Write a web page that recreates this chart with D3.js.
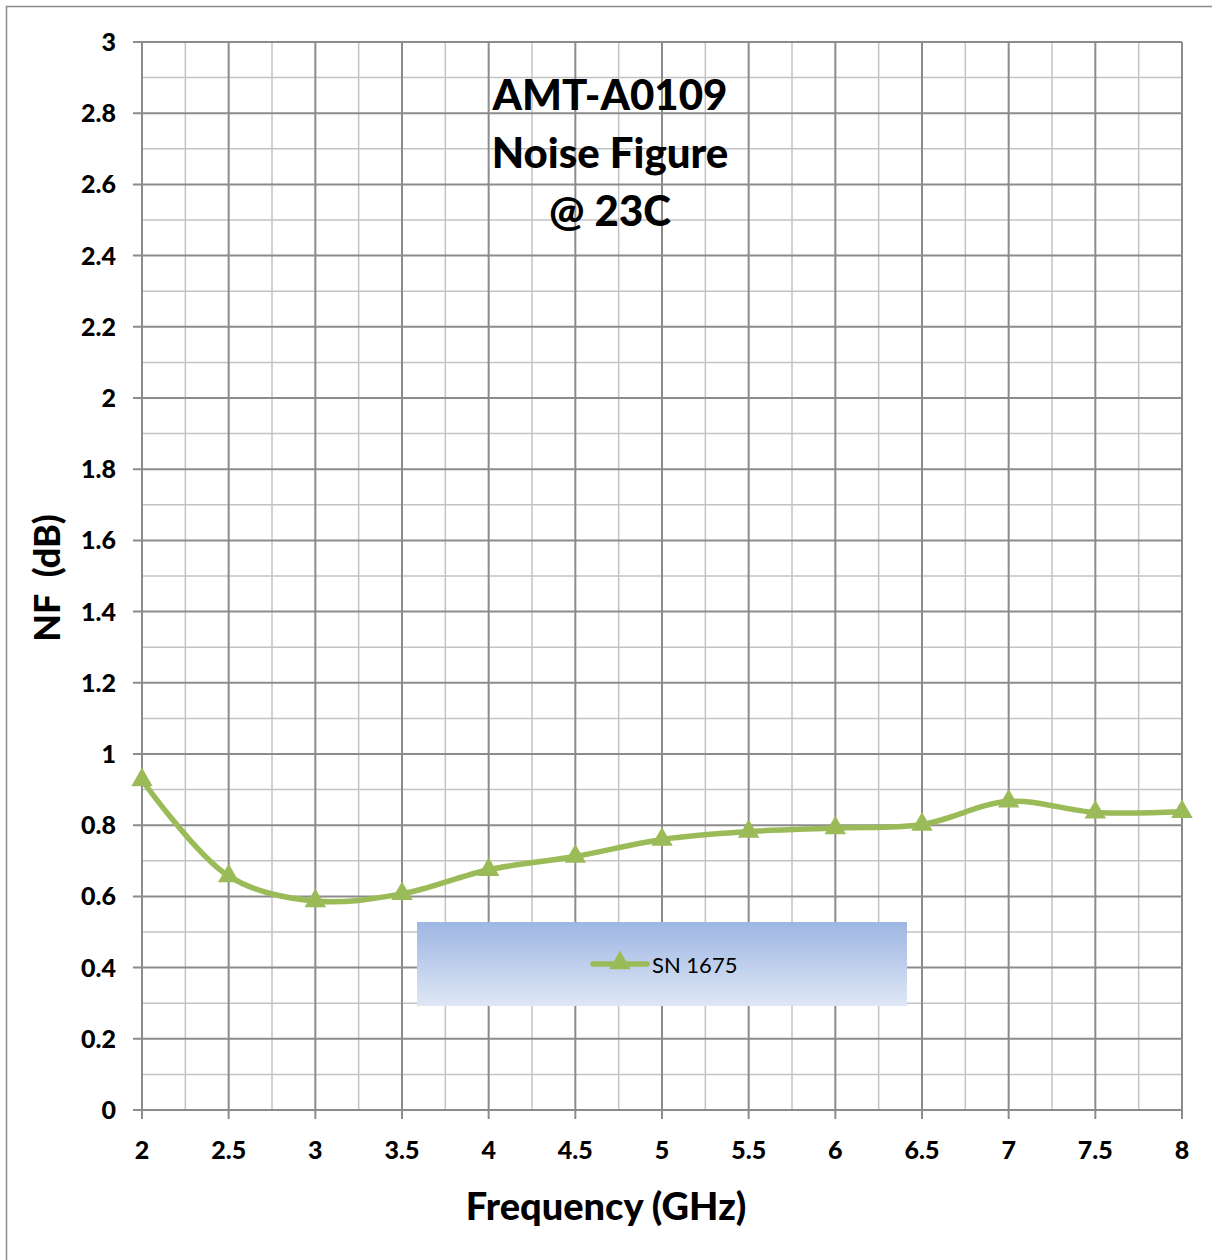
<!DOCTYPE html>
<html><head><meta charset="utf-8">
<script src="https://cdn.jsdelivr.net/npm/d3@7"></script>
<style>body{margin:0;background:#fff}svg{display:block}text{font-family:Lato,"Open Sans",sans-serif}</style>
</head><body><svg id="c" width="1212" height="1260"></svg>
<script>
const freqs = [2, 2.5, 3, 3.5, 4, 4.5, 5, 5.5, 6, 6.5, 7, 7.5, 8];
const nf = [0.927, 0.657, 0.587, 0.607, 0.675, 0.712, 0.760, 0.782, 0.792, 0.802, 0.867, 0.836, 0.838];
const seriesName = "SN 1675";
const xTicks = [2, 2.5, 3, 3.5, 4, 4.5, 5, 5.5, 6, 6.5, 7, 7.5, 8];
const yTicks = [0, 0.2, 0.4, 0.6, 0.8, 1, 1.2, 1.4, 1.6, 1.8, 2, 2.2, 2.4, 2.6, 2.8, 3];
const titleLines = ["AMT-A0109", "Noise Figure", "@ 23C"];

const svg = d3.select("#c");
const L = 142, R = 1182, T = 42, B = 1110;
const x = d3.scaleLinear().domain([2, 8]).range([L, R]);
const y = d3.scaleLinear().domain([0, 3]).range([B, T]);
const heavy = 900;

svg.append("rect").attr("x", 6.5).attr("y", 6.5).attr("width", 1210).attr("height", 1260)
  .attr("fill", "none").attr("stroke", "#8a8a8a").attr("stroke-width", 1.5);

// grid
const xMinor = d3.range(2.25, 8, 0.5);
const yMinor = d3.range(0.1, 3, 0.2);
const g = svg.append("g");
g.selectAll(".xm").data(xMinor).join("line")
  .attr("x1", d => x(d)).attr("x2", d => x(d)).attr("y1", T).attr("y2", B)
  .attr("stroke", "#c3c3c3").attr("stroke-width", 1.5);
g.selectAll(".ym").data(yMinor).join("line")
  .attr("y1", d => y(d)).attr("y2", d => y(d)).attr("x1", L).attr("x2", R)
  .attr("stroke", "#c3c3c3").attr("stroke-width", 1.5);
g.selectAll(".xM").data(xTicks).join("line")
  .attr("x1", d => x(d)).attr("x2", d => x(d)).attr("y1", T).attr("y2", B + 9)
  .attr("stroke", "#8c8c8c").attr("stroke-width", 2);
g.selectAll(".yM").data(yTicks).join("line")
  .attr("y1", d => y(d)).attr("y2", d => y(d)).attr("x1", L - 9).attr("x2", R)
  .attr("stroke", "#8c8c8c").attr("stroke-width", 2);

// tick labels
svg.append("g").selectAll("text").data(yTicks).join("text")
  .attr("x", 116).attr("y", d => y(d)).attr("dy", "0.36em").attr("text-anchor", "end")
  .attr("font-size", 25).attr("font-weight", heavy).text(d => d);
svg.append("g").selectAll("text").data(xTicks).join("text")
  .attr("x", d => x(d)).attr("y", 1150).attr("dy", "0.36em").attr("text-anchor", "middle")
  .attr("font-size", 25).attr("font-weight", heavy).text(d => d);

// axis titles
svg.append("text").attr("x", 606).attr("y", 1220).attr("text-anchor", "middle")
  .attr("font-size", 38).attr("font-weight", heavy).text("Frequency (GHz)");
svg.append("text").attr("transform", "translate(60,578) rotate(-90)").attr("text-anchor", "middle")
  .attr("font-size", 36).attr("font-weight", heavy).attr("xml:space", "preserve").text("NF  (dB)");

// chart title
svg.append("g").selectAll("text").data(titleLines).join("text")
  .attr("x", 610).attr("y", (d, i) => 110 + i * 58).attr("text-anchor", "middle")
  .attr("font-size", 42).attr("font-weight", heavy).text(d => d);

// series
const green = "#9bbb59";
const pts = freqs.map((f, i) => [f, nf[i]]);
const line = d3.line().x(d => x(d[0])).y(d => y(d[1])).curve(d3.curveCatmullRom.alpha(0.5));
svg.append("path").attr("d", line(pts)).attr("fill", "none").attr("stroke", green)
  .attr("stroke-width", 5.5).attr("stroke-linejoin", "round").attr("stroke-linecap", "round");
const tri = d3.symbol().type(d3.symbolTriangle).size(200);
svg.append("g").selectAll("path").data(pts).join("path")
  .attr("d", tri).attr("transform", d => `translate(${x(d[0])},${y(d[1])})`).attr("fill", green);

// legend
const defs = svg.append("defs");
const lg = defs.append("linearGradient").attr("id", "lg").attr("x1", 0).attr("x2", 0).attr("y1", 0).attr("y2", 1);
lg.append("stop").attr("offset", 0).attr("stop-color", "#9db6e3");
lg.append("stop").attr("offset", 1).attr("stop-color", "#dfe7f5");
svg.append("rect").attr("x", 417).attr("y", 922).attr("width", 490).attr("height", 84).attr("fill", "url(#lg)");
svg.append("line").attr("x1", 593).attr("x2", 647).attr("y1", 964).attr("y2", 964)
  .attr("stroke", green).attr("stroke-width", 5.5).attr("stroke-linecap", "round");
svg.append("path").attr("d", tri).attr("transform", "translate(620,963)").attr("fill", green);
svg.append("text").attr("x", 652).attr("y", 965).attr("dy", "0.36em").attr("font-size", 22)
  .attr("font-family", "'Open Sans',Lato,sans-serif").text(seriesName);
</script></body></html>
